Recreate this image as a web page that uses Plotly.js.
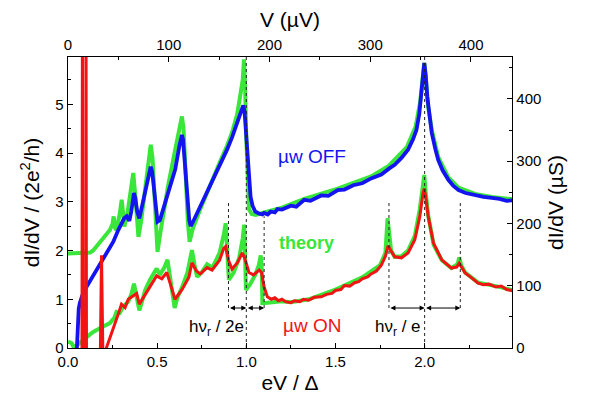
<!DOCTYPE html>
<html>
<head>
<meta charset="utf-8">
<script src="https://cdn.plot.ly/plotly-3.0.1.min.js"></script>
<style>html,body{margin:0;padding:0;background:#fff}#chart{width:590px;height:405px}</style>
</head>
<body>
<div id="chart"></div>
<script>
// ---- data ----
const offX = [0.050,0.052,0.055,0.060,0.066,0.080,0.100,0.132,0.160,0.179,0.216,0.254,0.282,0.300,0.315,0.329,0.344,0.355,0.364,0.370,0.377,0.388,0.400,0.420,0.445,0.455,0.464,0.472,0.482,0.492,0.502,0.515,0.530,0.554,0.601,0.625,0.633,0.639,0.645,0.652,0.662,0.672,0.680,0.688,0.700,0.742,0.780,0.817,0.850,0.892,0.920,0.949,0.970,0.983,0.990,0.997,1.005,1.015,1.024,1.035,1.050,1.070,1.090,1.100,1.120,1.137,1.160,1.175,1.200,1.250,1.280,1.325,1.360,1.420,1.460,1.513,1.550,1.600,1.650,1.700,1.757,1.804,1.832,1.870,1.907,1.935,1.954,1.970,1.980,1.990,1.998,2.006,2.015,2.025,2.040,2.060,2.076,2.100,2.133,2.160,2.190,2.230,2.283,2.330,2.377,2.420,2.460,2.500];
const offY = [0.00,0.30,0.58,0.80,0.92,1.08,1.23,1.43,1.58,1.70,1.94,2.18,2.42,2.55,2.66,2.70,2.61,2.80,3.08,3.18,3.08,2.80,2.66,3.00,3.45,3.65,3.72,3.62,3.25,2.80,2.59,2.62,2.80,3.10,3.66,4.15,4.32,4.37,4.28,4.00,3.55,3.00,2.62,2.50,2.58,2.90,3.20,3.50,3.75,4.07,4.32,4.61,4.85,4.98,4.85,4.50,4.00,3.45,3.10,2.92,2.80,2.76,2.74,2.77,2.74,2.80,2.78,2.85,2.84,2.92,2.90,3.04,3.02,3.13,3.12,3.24,3.25,3.34,3.38,3.48,3.56,3.69,3.76,3.90,4.07,4.28,4.47,4.80,5.10,5.55,5.85,5.60,5.15,4.80,4.41,4.08,3.86,3.65,3.45,3.33,3.24,3.18,3.13,3.10,3.08,3.06,3.02,3.03];

const thOffX = [0.000,0.110,0.125,0.141,0.170,0.197,0.235,0.250,0.256,0.265,0.272,0.290,0.301,0.308,0.316,0.335,0.355,0.366,0.378,0.395,0.410,0.440,0.455,0.464,0.474,0.486,0.502,0.515,0.560,0.600,0.630,0.639,0.648,0.660,0.672,0.682,0.700,0.742,0.780,0.817,0.850,0.892,0.920,0.949,0.970,0.980,0.987,0.993,1.000,1.008,1.015,1.030,1.053,1.100,1.200,1.325,1.513,1.700,1.800,1.900,1.950,1.975,1.990,1.998,2.006,2.020,2.040,2.076,2.133,2.190,2.283,2.377,2.500];
const thOffY = [1.94,1.94,1.96,2.00,2.12,2.24,2.42,2.55,2.70,2.45,2.42,2.75,3.04,2.80,2.49,2.80,3.30,3.59,3.10,2.28,2.60,3.50,4.00,4.17,3.90,3.00,1.97,2.30,3.30,4.05,4.60,4.75,4.50,3.50,2.60,2.18,2.45,2.85,3.20,3.52,3.80,4.15,4.42,4.80,5.20,5.50,5.92,5.40,4.30,3.30,2.85,2.75,2.73,2.78,2.88,3.06,3.27,3.52,3.74,4.12,4.55,5.05,5.55,5.85,5.55,4.95,4.48,3.92,3.50,3.29,3.16,3.10,3.05];

const onX = [0.078,0.081,0.083,0.099,0.101,0.104,0.180,0.188,0.197,0.205,0.215,0.235,0.263,0.282,0.300,0.320,0.338,0.360,0.385,0.400,0.432,0.470,0.497,0.526,0.554,0.575,0.600,0.640,0.678,0.695,0.720,0.742,0.780,0.808,0.850,0.874,0.884,0.900,0.920,0.950,0.977,0.990,1.015,1.040,1.072,1.085,1.100,1.118,1.140,1.160,1.180,1.200,1.220,1.250,1.270,1.300,1.320,1.350,1.380,1.420,1.450,1.480,1.500,1.530,1.550,1.580,1.607,1.630,1.650,1.680,1.700,1.730,1.757,1.780,1.795,1.810,1.832,1.870,1.907,1.945,1.973,1.990,1.998,2.008,2.020,2.050,2.096,2.150,2.180,2.194,2.205,2.227,2.260,2.300,2.330,2.360,2.400,2.430,2.460,2.500];
const onY = [-1.0,7.0,-1.0,-1.0,7.0,-1.0,-0.5,1.90,-0.5,-0.5,0.00,0.20,0.49,0.70,0.90,0.83,1.00,1.05,1.12,0.90,1.10,1.31,1.48,1.42,1.55,1.30,1.00,1.20,1.45,1.75,1.58,1.52,1.65,1.60,1.80,2.05,2.08,1.80,1.62,1.75,1.95,1.85,1.55,1.50,1.60,1.55,1.25,1.05,1.00,1.03,0.97,1.00,0.95,0.93,0.97,0.95,1.00,0.98,1.04,1.05,1.10,1.12,1.18,1.20,1.28,1.27,1.34,1.36,1.42,1.46,1.52,1.58,1.70,1.88,2.10,2.00,1.87,1.85,1.95,2.22,2.70,3.15,3.27,3.05,2.70,2.15,1.81,1.64,1.66,1.74,1.68,1.54,1.45,1.33,1.30,1.31,1.25,1.27,1.20,1.17];

const thOnX = [0.000,0.020,0.030,0.050,0.070,0.100,0.141,0.197,0.235,0.260,0.272,0.290,0.310,0.338,0.355,0.370,0.385,0.400,0.415,0.432,0.460,0.497,0.515,0.540,0.558,0.575,0.598,0.615,0.640,0.670,0.695,0.710,0.724,0.750,0.780,0.810,0.850,0.875,0.884,0.893,0.902,0.930,0.960,0.980,0.988,0.993,0.998,1.020,1.050,1.070,1.081,1.087,1.090,1.120,1.200,1.250,1.350,1.500,1.650,1.750,1.780,1.792,1.800,1.812,1.832,1.870,1.907,1.945,1.973,1.990,1.998,2.006,2.020,2.050,2.096,2.150,2.185,2.194,2.205,2.227,2.300,2.400,2.500];
const thOnY = [0.13,0.10,0.03,0.05,0.12,0.22,0.33,0.44,0.51,0.62,0.74,0.72,0.85,0.95,1.10,1.32,1.00,0.77,0.95,1.18,1.40,1.63,1.50,1.65,1.81,1.40,0.82,1.05,1.25,1.55,2.01,1.70,1.46,1.55,1.72,1.65,1.95,2.35,2.56,2.00,1.40,1.55,1.85,2.25,2.53,1.90,1.19,1.30,1.50,1.70,1.90,1.60,0.92,0.93,0.96,0.94,1.00,1.20,1.45,1.70,1.95,2.66,2.35,2.00,1.87,1.88,2.00,2.30,2.85,3.30,3.55,3.20,2.72,2.12,1.80,1.64,1.72,1.86,1.70,1.55,1.34,1.27,1.18];

// resonance marker lines (eV/Δ) and their vertical extent
const markX    = [0.9, 1.0, 1.1, 1.8, 2.0, 2.2];
const markTop  = [2.98, 5.97, 2.70, 2.98, 5.97, 2.98];
const markBot  = [0.82, 0.0, 0.82, 0.82, 0.0, 0.82];
const arrowY = 0.82;
const arrowPairs = [[0.9,1.0],[1.0,1.1],[1.8,2.0],[2.0,2.2]];

const deltaMicroV = 177;      // µV per unit of eV/Δ (top axis)
const quantumMicroS = 78.3;   // µS per unit of 2e²/h (right axis)
const xMax = 2.49, yMax = 5.97;

const BLUE = '#1414f0', GREEN = '#3ae63a', RED = '#f01414';
const F = 'Arial, "Liberation Sans", sans-serif';

const traces = [];
traces.push({x: thOffX, y: thOffY, mode:'lines', line:{color:GREEN, width:4}, hoverinfo:'skip'});
traces.push({x: thOnX, y: thOnY, mode:'lines', line:{color:GREEN, width:4}, hoverinfo:'skip'});
traces.push({x: offX, y: offY, mode:'lines', line:{color:BLUE, width:3.8}, hoverinfo:'skip'});
traces.push({x: onX, y: onY, mode:'lines', line:{color:RED, width:3}, hoverinfo:'skip'});
markX.forEach((mx,i)=>{
  traces.push({x:[mx,mx], y:[markBot[i], markTop[i]], mode:'lines', line:{color:'#222', width:1, dash:'dot'}, hoverinfo:'skip'});
});
// dummy trace for secondary axes
traces.push({x:[0], y:[0], xaxis:'x2', yaxis:'y2', mode:'markers', marker:{opacity:0}, hoverinfo:'skip'});

const annotations = [];
arrowPairs.forEach(p=>{
  annotations.push({x:p[1], y:arrowY, ax:p[0], ay:arrowY, xref:'x', yref:'y', axref:'x', ayref:'y',
    text:'', showarrow:true, arrowhead:2, startarrowhead:2, arrowside:'end+start', arrowsize:1, arrowwidth:1, arrowcolor:'#000'});
});
annotations.push({x:0.83, y:0.42, xref:'x', yref:'y', text:'hν<sub>r</sub> / 2e', showarrow:false, font:{family:F, size:17, color:'#000'}});
annotations.push({x:1.85, y:0.42, xref:'x', yref:'y', text:'hν<sub>r</sub> / e', showarrow:false, font:{family:F, size:17, color:'#000'}});
annotations.push({x:1.37, y:3.92, xref:'x', yref:'y', text:'µw OFF', showarrow:false, font:{family:F, size:19, color:BLUE}});
annotations.push({x:1.335, y:2.16, xref:'x', yref:'y', text:'<b>theory</b>', showarrow:false, font:{family:F, size:18, color:GREEN}});
annotations.push({x:1.37, y:0.47, xref:'x', yref:'y', text:'µw ON', showarrow:false, font:{family:F, size:19, color:RED}});

const axCommon = {showgrid:false, zeroline:false, showline:true, linecolor:'#000', linewidth:1.3,
  ticks:'inside', ticklen:5, tickwidth:1, tickcolor:'#000', tickfont:{family:F, size:15, color:'#000'}};

const layout = {
  width:590, height:405,
  margin:{l:68, r:78, t:57, b:57},
  paper_bgcolor:'#fff', plot_bgcolor:'#fff',
  showlegend:false,
  xaxis: Object.assign({}, axCommon, {range:[0,xMax], dtick:0.5, tick0:0, tickformat:'.1f',
    minor:{dtick:0.25, ticks:'inside', ticklen:3, tickcolor:'#000'},
    title:{text:'eV / Δ', font:{family:F, size:21, color:'#000'}, standoff:6}}),
  yaxis: Object.assign({}, axCommon, {range:[0,yMax], dtick:1, tick0:0,
    minor:{dtick:0.5, ticks:'inside', ticklen:3, tickcolor:'#000'},
    title:{text:'dI/dV / (2e<sup>2</sup>/h)', font:{family:F, size:21, color:'#000'}, standoff:10}}),
  xaxis2: Object.assign({}, axCommon, {overlaying:'x', side:'top', anchor:'y', range:[0, xMax*deltaMicroV], dtick:100, tick0:0,
    minor:{dtick:50, ticks:'inside', ticklen:3, tickcolor:'#000'},
    title:{text:'V (µV)', font:{family:F, size:21, color:'#000'}, standoff:2}}),
  yaxis2: Object.assign({}, axCommon, {overlaying:'y', side:'right', anchor:'x', range:[0, yMax*quantumMicroS], dtick:100, tick0:0,
    minor:{dtick:50, ticks:'inside', ticklen:3, tickcolor:'#000'},
    title:{text:'dI/dV (µS)', font:{family:F, size:21, color:'#000'}, standoff:8}}),
  annotations: annotations
};

Plotly.newPlot('chart', traces, layout, {displayModeBar:false, staticPlot:true});
</script>
</body>
</html>
